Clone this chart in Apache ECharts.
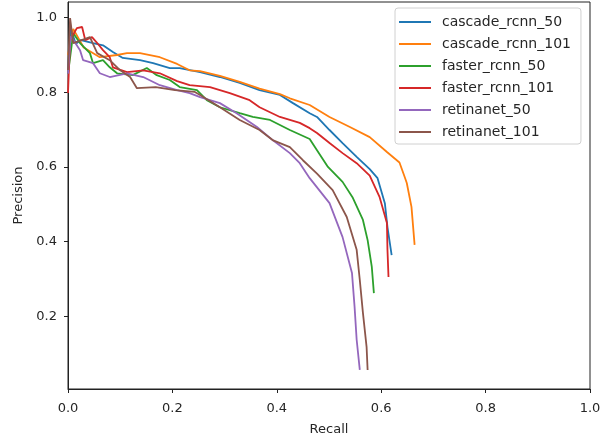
<!DOCTYPE html>
<html>
<head>
<meta charset="utf-8">
<script src="https://cdn.jsdelivr.net/npm/echarts@6/dist/echarts.min.js"></script>
<style>
  html, body { margin: 0; padding: 0; background: #fff; }
  #chart { width: 611px; height: 437px; }
</style>
</head>
<body>
<div id="chart"></div>
<script>
// Series names (legend order)
const seriesNames = ['cascade_rcnn_50', 'cascade_rcnn_101', 'faster_rcnn_50', 'faster_rcnn_101', 'retinanet_50', 'retinanet_101'];
const seriesColors = ['#1f77b4', '#ff7f0e', '#2ca02c', '#d62728', '#9467bd', '#8c564b'];

// [recall, precision] pairs
const cascadeRcnn50 = [
  [0.000, 0.86], [0.005, 0.97], [0.015, 0.93], [0.025, 0.94], [0.048, 0.932], [0.067, 0.926],
  [0.086, 0.908], [0.105, 0.892], [0.138, 0.886], [0.163, 0.878], [0.195, 0.865], [0.214, 0.865],
  [0.253, 0.854], [0.291, 0.841], [0.329, 0.825], [0.367, 0.806], [0.406, 0.793], [0.431, 0.771],
  [0.463, 0.744], [0.477, 0.734], [0.501, 0.699], [0.526, 0.664], [0.553, 0.627], [0.578, 0.594],
  [0.593, 0.570], [0.607, 0.503], [0.612, 0.439], [0.620, 0.364]
];
const cascadeRcnn101 = [
  [0.000, 0.90], [0.010, 0.97], [0.030, 0.92], [0.061, 0.894], [0.094, 0.900], [0.113, 0.905],
  [0.138, 0.905], [0.176, 0.894], [0.209, 0.876], [0.233, 0.859], [0.253, 0.857], [0.291, 0.844],
  [0.329, 0.828], [0.367, 0.810], [0.406, 0.795], [0.425, 0.784], [0.463, 0.766], [0.501, 0.734],
  [0.540, 0.707], [0.578, 0.680], [0.611, 0.640], [0.635, 0.612], [0.645, 0.573], [0.649, 0.557],
  [0.658, 0.493], [0.664, 0.391]
];
const fasterRcnn50 = [
  [0.000, 0.85], [0.010, 0.958], [0.023, 0.932], [0.042, 0.905], [0.048, 0.878], [0.067, 0.886],
  [0.080, 0.867], [0.094, 0.851], [0.124, 0.846], [0.151, 0.865], [0.170, 0.846], [0.195, 0.833],
  [0.214, 0.814], [0.247, 0.806], [0.266, 0.779], [0.291, 0.760], [0.329, 0.744], [0.354, 0.734],
  [0.387, 0.726], [0.425, 0.699], [0.463, 0.675], [0.477, 0.645], [0.498, 0.600], [0.526, 0.560],
  [0.545, 0.519], [0.565, 0.458], [0.574, 0.404], [0.582, 0.332], [0.586, 0.262]
];
const fasterRcnn101 = [
  [0.000, 0.798], [0.004, 0.940], [0.017, 0.972], [0.027, 0.975], [0.033, 0.940], [0.046, 0.948],
  [0.056, 0.932], [0.067, 0.913], [0.080, 0.894], [0.086, 0.867], [0.113, 0.854], [0.144, 0.859],
  [0.176, 0.851], [0.209, 0.830], [0.233, 0.819], [0.272, 0.814], [0.310, 0.798], [0.348, 0.779],
  [0.367, 0.760], [0.406, 0.734], [0.444, 0.718], [0.463, 0.704], [0.477, 0.691], [0.501, 0.664],
  [0.526, 0.637], [0.553, 0.610], [0.578, 0.577], [0.597, 0.519], [0.611, 0.450], [0.612, 0.378],
  [0.614, 0.305]
];
const retinanet50 = [
  [0.000, 0.85], [0.005, 0.95], [0.015, 0.93], [0.023, 0.913], [0.029, 0.886], [0.048, 0.878],
  [0.061, 0.851], [0.080, 0.841], [0.113, 0.851], [0.144, 0.841], [0.176, 0.819], [0.209, 0.806],
  [0.233, 0.798], [0.253, 0.787], [0.291, 0.771], [0.323, 0.744], [0.362, 0.707], [0.392, 0.672],
  [0.425, 0.637], [0.444, 0.610], [0.463, 0.570], [0.501, 0.503], [0.526, 0.412], [0.544, 0.316],
  [0.549, 0.225], [0.553, 0.137], [0.559, 0.056]
];
const retinanet101 = [
  [0.000, 0.86], [0.004, 0.999], [0.010, 0.932], [0.042, 0.948], [0.056, 0.905], [0.080, 0.886],
  [0.100, 0.859], [0.119, 0.841], [0.132, 0.811], [0.168, 0.814], [0.205, 0.806], [0.243, 0.801],
  [0.253, 0.793], [0.291, 0.760], [0.329, 0.726], [0.367, 0.699], [0.392, 0.672], [0.425, 0.653],
  [0.450, 0.618], [0.477, 0.582], [0.507, 0.538], [0.534, 0.466], [0.553, 0.378], [0.559, 0.297],
  [0.565, 0.209], [0.572, 0.118], [0.574, 0.056]
];
const seriesData = [cascadeRcnn50, cascadeRcnn101, fasterRcnn50, fasterRcnn101, retinanet50, retinanet101];

const xTicks = [0, 0.2, 0.4, 0.6, 0.8, 1.0];
const yTicks = [0.2, 0.4, 0.6, 0.8, 1.0];

const FONT = 'DejaVu Sans';
const TXT = '#262626';

const chart = echarts.init(document.getElementById('chart'), null, { renderer: 'canvas' });
chart.setOption({
  animation: false,
  backgroundColor: '#fff',
  grid: {
    left: 68, right: 21, top: 2, bottom: 48,
    outerBoundsMode: 'none',
    containLabel: false,
    show: true, borderColor: '#222', borderWidth: 1, backgroundColor: 'transparent'
  },
  legend: {
    orient: 'vertical',
    left: 395, top: 8,
    padding: [7, 10, 5, 4],
    icon: 'rect',
    itemWidth: 32, itemHeight: 2, itemGap: 8,
    backgroundColor: '#fff',
    borderColor: '#d0d0d0', borderWidth: 1, borderRadius: 3,
    textStyle: { fontFamily: FONT, fontSize: 14, color: TXT, padding: [0, 0, 0, 6] },
    data: seriesNames
  },
  xAxis: {
    type: 'value', min: 0, max: 1, interval: 0.2,
    name: 'Recall', nameLocation: 'middle', nameGap: 34,
    nameTextStyle: { fontFamily: FONT, fontSize: 13, color: TXT },
    axisLine: { show: true, lineStyle: { color: '#222', width: 1 } },
    axisTick: { show: true, inside: false, length: 4, lineStyle: { color: '#222' }, customValues: xTicks },
    axisLabel: { fontFamily: FONT, fontSize: 13, color: TXT, margin: 13, customValues: xTicks,
      formatter: v => v.toFixed(1) },
    splitLine: { show: false }
  },
  yAxis: {
    type: 'value', min: 0.005, max: 1.042,
    name: 'Precision', nameLocation: 'middle', nameGap: 33, nameRotate: 90,
    nameTextStyle: { fontFamily: FONT, fontSize: 13, color: TXT },
    axisLine: { show: true, lineStyle: { color: '#222', width: 1 } },
    axisTick: { show: true, inside: false, length: 4, lineStyle: { color: '#222' }, customValues: yTicks },
    axisLabel: { fontFamily: FONT, fontSize: 13, color: TXT, margin: 11, customValues: yTicks,
      formatter: v => v.toFixed(1) },
    splitLine: { show: false }
  },
  series: seriesNames.map((name, i) => ({
    name: name,
    type: 'line',
    data: seriesData[i],
    symbol: 'none',
    smooth: false,
    clip: true,
    color: seriesColors[i],
    lineStyle: { width: 1.8, color: seriesColors[i] }
  }))
});
</script>
</body>
</html>
